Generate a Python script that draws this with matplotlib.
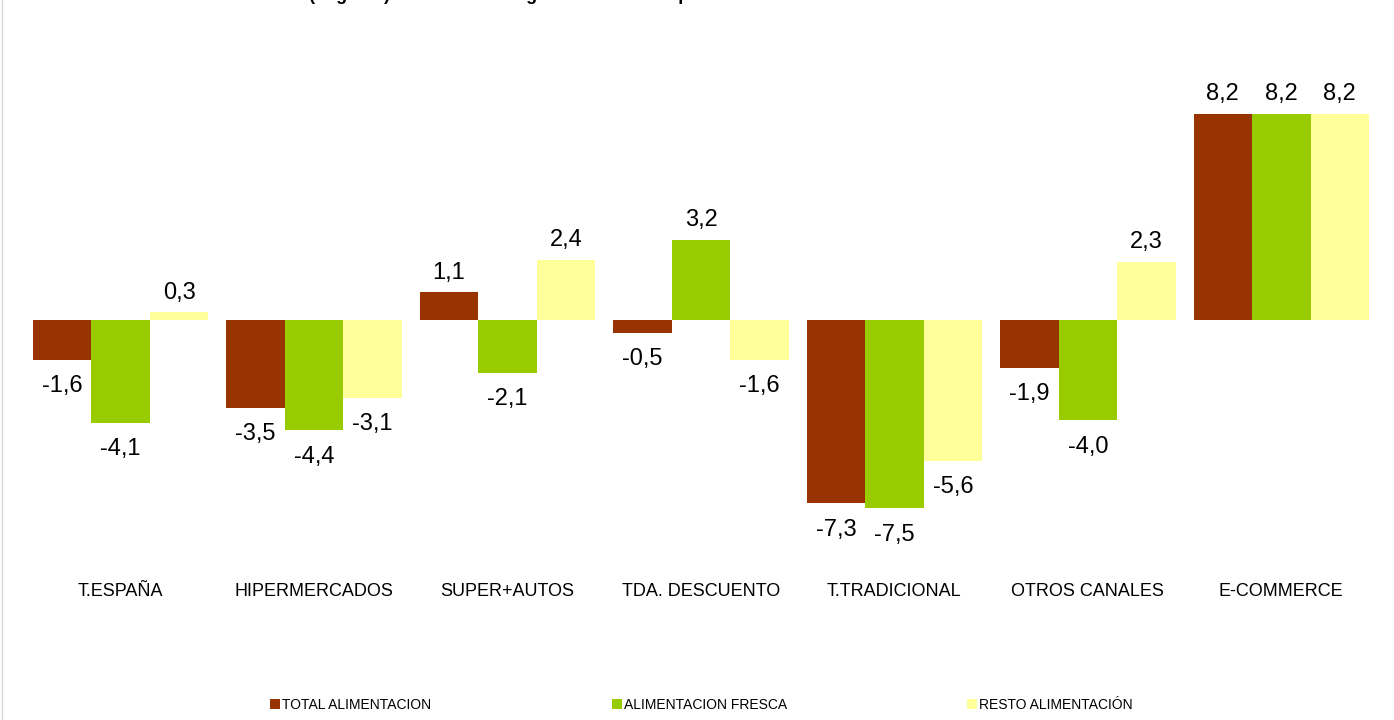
import matplotlib
matplotlib.use("Agg")
import matplotlib.pyplot as plt
import numpy as np
from matplotlib.lines import Line2D
from matplotlib.patches import Patch

plt.rcParams["font.family"] = ["Liberation Sans", "DejaVu Sans"]

CATEGORIES = ["T.ESPAÑA", "HIPERMERCADOS", "SUPER+AUTOS", "TDA. DESCUENTO",
              "T.TRADICIONAL", "OTROS CANALES", "E-COMMERCE"]
SERIES = ["TOTAL ALIMENTACION", "ALIMENTACION FRESCA", "RESTO ALIMENTACIÓN"]
TOTAL_ALIM = [-1.6, -3.5, 1.1, -0.5, -7.3, -1.9, 8.2]
ALIM_FRESCA = [-4.1, -4.4, -2.1, 3.2, -7.5, -4.0, 8.2]
RESTO_ALIM = [0.3, -3.1, 2.4, -1.6, -5.6, 2.3, 8.2]
COLORS = ["#993300", "#99CC00", "#FFFF99"]
# title sits above the top edge in the original, only its descenders show
TITLE = "Evolución (% gasto) del mercado según canal de compra"

W, H = 1394, 720
fig = plt.figure(figsize=(W / 100, H / 100), dpi=100)
ax = fig.add_axes([24 / W, 149 / H, 1354 / W, 502 / H])

x = np.arange(len(CATEGORIES))
width = 0.3025
values = [TOTAL_ALIM, ALIM_FRESCA, RESTO_ALIM]

for i, (vals, color, name) in enumerate(zip(values, COLORS, SERIES)):
    pos = x + (i - 1) * width
    bars = ax.bar(pos, vals, width=width, color=color, edgecolor="none", label=name)
    for rect, v in zip(bars, vals):
        label = f"{v:.1f}".replace(".", ",")
        cx = rect.get_x() + rect.get_width() / 2
        if v >= 0:
            ax.annotate(label, (cx, v), xytext=(0, 10), textcoords="offset points",
                        ha="center", va="baseline", fontsize=17)
        else:
            ax.annotate(label, (cx, v), xytext=(0, -11), textcoords="offset points",
                        ha="center", va="top", fontsize=17)

ax.set_xlim(-0.5, len(CATEGORIES) - 0.5)
ax.set_ylim(-10, 10)
ax.set_xticks(x)
ax.set_xticklabels(CATEGORIES, fontsize=13)
ax.tick_params(axis="x", length=0, pad=9)
ax.set_yticks([])
for s in ax.spines.values():
    s.set_visible(False)

handles = [Patch(facecolor=c, edgecolor="none") for c in COLORS]
fig.legend(handles, SERIES, loc="center", bbox_to_anchor=(0.5 + 4.5 / W, 1 - 705 / H),
           ncol=3, frameon=False, fontsize=10, handlelength=0.7, handleheight=0.7,
           handletextpad=0.15, columnspacing=13)

fig.text(218 / W, 1.0, TITLE, fontsize=13, fontweight="bold",
         ha="left", va="baseline")
fig.add_artist(Line2D([1.5 / W, 1.5 / W], [0, 1], transform=fig.transFigure,
                      color="#d9d9d9", linewidth=1))

fig.savefig("out.png", dpi=100)
